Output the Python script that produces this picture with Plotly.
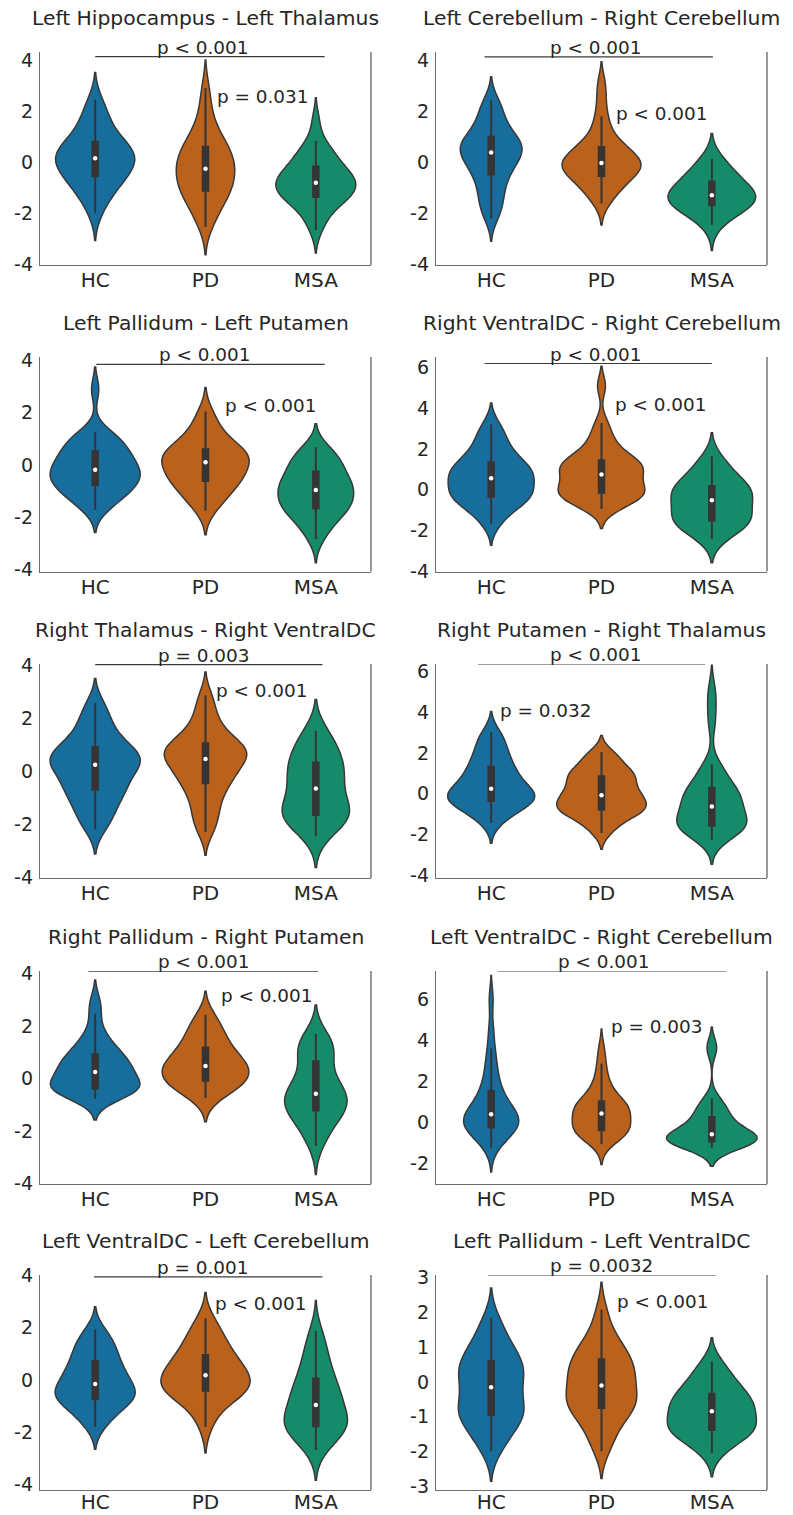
import numpy as np
import plotly.graph_objects as go

# ---------------- data ----------------
GROUPS = ["HC", "PD", "MSA"]

TITLES = [
    "Left Hippocampus - Left Thalamus",
    "Left Cerebellum - Right Cerebellum",
    "Left Pallidum - Left Putamen",
    "Right VentralDC - Right Cerebellum",
    "Right Thalamus - Right VentralDC",
    "Right Putamen - Right Thalamus",
    "Right Pallidum - Right Putamen",
    "Left VentralDC - Right Cerebellum",
    "Left VentralDC - Left Cerebellum",
    "Left Pallidum - Left VentralDC",
]

P_HC_MSA = ["p < 0.001", "p < 0.001", "p < 0.001", "p < 0.001", "p = 0.003",
            "p < 0.001", "p < 0.001", "p < 0.001", "p = 0.001", "p = 0.0032"]
P_SECOND = ["p = 0.031", "p < 0.001", "p < 0.001", "p < 0.001", "p < 0.001",
            "p = 0.032", "p < 0.001", "p = 0.003", "p < 0.001", "p < 0.001"]

YTICKS_4 = [-4, -2, 0, 2, 4]
YTICKS_6 = [-4, -2, 0, 2, 4, 6]
YTICKS_8 = [-2, 0, 2, 4, 6]
YTICKS_3 = [-3, -2, -1, 0, 1, 2, 3]
PANEL_YTICKS = [YTICKS_4, YTICKS_4, YTICKS_4, YTICKS_6, YTICKS_4,
                YTICKS_6, YTICKS_4, YTICKS_8, YTICKS_4, YTICKS_3]

P1_HC = [-2.0, -1.6, -1.3, -1.1, -0.95, -0.8, -0.7, -0.55, -0.45, -0.35, -0.25, -0.15, -0.05, 0.05, 0.12,
         0.18, 0.25, 0.32, 0.4, 0.48, 0.58, 0.68, 0.8, 0.95, 1.1, 1.3, 1.55, 1.8, 2.1, 2.45]
P1_PD = [-2.52, -2.2, -1.9, -1.7, -1.5, -1.35, -1.2, -1.12, -1.0, -0.9, -0.78, -0.65, -0.52, -0.42, -0.32,
         -0.2, -0.1, 0.0, 0.1, 0.2, 0.32, 0.5, 0.6, 0.72, 0.88, 1.05, 1.35, 1.7, 2.2, 2.9]
P1_MSA = [-2.65, -2.3, -2.0, -1.8, -1.6, -1.48, -1.4, -1.36, -1.3, -1.22, -1.12, -1.02, -0.95, -0.88, -0.83,
          -0.77, -0.7, -0.62, -0.55, -0.48, -0.38, -0.25, -0.17, -0.05, 0.1, 0.25, 0.42, 0.6, 0.84, 1.62]

P2_HC = [-2.19, -1.9, -1.65, -1.4, -1.15, -0.95, -0.75, -0.48, -0.38, -0.25, -0.1, 0.02, 0.12, 0.22, 0.32,
         0.45, 0.5, 0.58, 0.65, 0.72, 0.8, 0.9, 1.0, 1.15, 1.3, 1.5, 1.7, 1.95, 2.2, 2.45]
P2_PD = [-1.61, -1.35, -1.15, -1.0, -0.85, -0.72, -0.6, -0.54, -0.45, -0.38, -0.3, -0.22, -0.15, -0.1, -0.05,
         0.0, 0.06, 0.12, 0.2, 0.28, 0.38, 0.52, 0.6, 0.72, 0.88, 1.05, 1.5, 1.8, 2.45, 3.1]
P2_MSA = [-2.45, -2.2, -2.0, -1.88, -1.8, -1.74, -1.7, -1.68, -1.62, -1.55, -1.5, -1.45, -1.4, -1.35, -1.31,
          -1.27, -1.22, -1.17, -1.1, -1.02, -0.95, -0.85, -0.75, -0.65, -0.55, -0.42, -0.3, -0.15, 0.0, 0.13]

P3_HC = [-1.73, -1.5, -1.35, -1.2, -1.08, -0.98, -0.88, -0.78, -0.72, -0.62, -0.55, -0.48, -0.4, -0.32, -0.22,
         -0.15, -0.08, 0.0, 0.08, 0.18, 0.3, 0.42, 0.52, 0.62, 0.75, 0.88, 1.0, 1.12, 1.26, 2.9]
P3_PD = [-1.76, -1.5, -1.3, -1.12, -0.98, -0.85, -0.72, -0.62, -0.56, -0.45, -0.36, -0.28, -0.2, -0.1, 0.05,
         0.15, 0.2, 0.26, 0.32, 0.38, 0.44, 0.5, 0.6, 0.7, 0.82, 0.98, 1.15, 1.4, 1.7, 2.05]
P3_MSA = [-2.85, -2.55, -2.3, -2.1, -1.95, -1.82, -1.72, -1.66, -1.6, -1.5, -1.4, -1.3, -1.2, -1.1, -1.0,
          -0.92, -0.85, -0.78, -0.7, -0.62, -0.52, -0.38, -0.25, -0.12, 0.0, 0.12, 0.25, 0.38, 0.52, 0.68]

P4_HC = [-1.67, -1.3, -1.0, -0.8, -0.62, -0.5, -0.4, -0.35, -0.28, -0.15, -0.02, 0.1, 0.22, 0.35, 0.5,
         0.62, 0.72, 0.8, 0.88, 0.98, 1.1, 1.25, 1.35, 1.5, 1.7, 1.95, 2.2, 2.5, 2.85, 3.2]
P4_PD = [-0.95, -0.75, -0.6, -0.48, -0.38, -0.28, -0.2, -0.15, -0.1, 0.02, 0.15, 0.28, 0.4, 0.52, 0.65,
         0.85, 0.95, 1.02, 1.1, 1.18, 1.28, 1.36, 1.45, 1.6, 1.8, 2.05, 2.35, 2.75, 3.28, 5.1]
P4_MSA = [-2.43, -2.2, -2.0, -1.85, -1.72, -1.62, -1.55, -1.52, -1.45, -1.32, -1.18, -1.05, -0.92, -0.8, -0.6,
          -0.45, -0.35, -0.28, -0.2, -0.12, -0.02, 0.08, 0.18, 0.3, 0.45, 0.62, 0.82, 1.05, 1.32, 1.64]

P5_HC = [-2.2, -1.9, -1.65, -1.42, -1.2, -1.0, -0.85, -0.7, -0.6, -0.45, -0.3, -0.15, -0.02, 0.1, 0.2,
         0.3, 0.38, 0.45, 0.52, 0.6, 0.68, 0.78, 0.92, 1.05, 1.2, 1.4, 1.65, 1.92, 2.22, 2.58]
P5_PD = [-2.29, -1.95, -1.65, -1.35, -1.1, -0.85, -0.6, -0.45, -0.36, -0.2, -0.05, 0.08, 0.2, 0.3, 0.4,
         0.52, 0.6, 0.66, 0.72, 0.8, 0.88, 0.96, 1.06, 1.18, 1.32, 1.5, 1.75, 2.05, 2.42, 2.87]
P5_MSA = [-2.45, -2.2, -2.02, -1.9, -1.8, -1.73, -1.68, -1.65, -1.6, -1.48, -1.35, -1.22, -1.08, -0.94, -0.72,
          -0.58, -0.44, -0.3, -0.16, -0.02, 0.1, 0.24, 0.33, 0.45, 0.6, 0.78, 0.98, 1.2, 1.38, 1.53]

P6_HC = [-1.43, -1.15, -0.92, -0.75, -0.6, -0.5, -0.42, -0.36, -0.3, -0.22, -0.15, -0.08, 0.0, 0.08, 0.18,
         0.3, 0.42, 0.55, 0.68, 0.82, 0.98, 1.15, 1.32, 1.5, 1.7, 1.92, 2.18, 2.45, 2.75, 3.03]
P6_PD = [-1.92, -1.6, -1.35, -1.15, -1.0, -0.9, -0.82, -0.78, -0.72, -0.62, -0.52, -0.42, -0.3, -0.18, -0.1,
         -0.04, 0.08, 0.2, 0.34, 0.48, 0.64, 0.8, 0.86, 0.95, 1.05, 1.2, 1.4, 1.62, 1.85, 2.05]
P6_MSA = [-2.25, -2.0, -1.85, -1.75, -1.68, -1.64, -1.61, -1.6, -1.56, -1.48, -1.38, -1.25, -1.1, -0.95, -0.8,
          -0.7, -0.62, -0.48, -0.35, -0.22, -0.1, 0.02, 0.08, 0.16, 0.25, 0.45, 0.72, 1.0, 1.22, 1.44,
          3.4, 4.3, 5.1]

P7_HC = [-0.78, -0.65, -0.55, -0.5, -0.45, -0.42, -0.4, -0.38, -0.35, -0.28, -0.18, -0.08, 0.02, 0.12, 0.2,
         0.28, 0.36, 0.44, 0.52, 0.6, 0.7, 0.8, 0.92, 1.02, 1.15, 1.32, 1.55, 1.85, 2.46, 2.95]
P7_PD = [-0.75, -0.6, -0.45, -0.35, -0.25, -0.18, -0.12, -0.09, -0.05, 0.05, 0.15, 0.25, 0.33, 0.4, 0.45,
         0.5, 0.56, 0.63, 0.7, 0.8, 0.92, 1.08, 1.18, 1.3, 1.45, 1.6, 1.78, 1.98, 2.2, 2.42]
P7_MSA = [-2.56, -2.25, -2.0, -1.8, -1.6, -1.45, -1.32, -1.22, -1.15, -1.08, -1.0, -0.92, -0.82, -0.72, -0.62,
          -0.54, -0.45, -0.35, -0.22, -0.1, 0.05, 0.32, 0.65, 0.82, 0.98, 1.12, 1.25, 1.38, 1.52, 1.7]

P8_HC = [-1.28, -1.0, -0.75, -0.58, -0.45, -0.38, -0.32, -0.28, -0.22, -0.12, -0.02, 0.08, 0.18, 0.26, 0.3,
         0.38, 0.45, 0.55, 0.68, 0.82, 0.98, 1.15, 1.38, 1.58, 1.85, 2.2, 2.6, 3.05, 3.59, 4.5, 6.0]
P8_PD = [-1.07, -0.85, -0.7, -0.6, -0.52, -0.46, -0.42, -0.4, -0.36, -0.25, -0.12, 0.0, 0.12, 0.22, 0.32,
         0.42, 0.5, 0.58, 0.66, 0.74, 0.8, 0.88, 0.95, 1.05, 1.2, 1.4, 1.65, 1.95, 2.35, 2.86, 3.55]
P8_MSA = [-1.25, -1.15, -1.08, -1.02, -0.99, -0.97, -0.96, -0.95, -0.92, -0.88, -0.84, -0.8, -0.75, -0.7, -0.64,
          -0.59, -0.54, -0.47, -0.4, -0.3, -0.15, 0.0, 0.15, 0.28, 0.42, 0.58, 0.75, 0.95, 1.15, 3.5, 3.75]

P9_HC = [-1.8, -1.55, -1.35, -1.18, -1.02, -0.9, -0.8, -0.74, -0.68, -0.62, -0.55, -0.48, -0.4, -0.32, -0.22,
         -0.1, 0.0, 0.1, 0.2, 0.3, 0.42, 0.55, 0.72, 0.85, 1.0, 1.15, 1.32, 1.5, 1.7, 1.94]
P9_PD = [-1.8, -1.35, -1.0, -0.8, -0.65, -0.55, -0.48, -0.42, -0.38, -0.3, -0.22, -0.14, -0.06, 0.04, 0.14,
         0.22, 0.3, 0.38, 0.46, 0.55, 0.65, 0.82, 0.95, 1.08, 1.22, 1.38, 1.58, 1.8, 2.05, 2.35]
P9_MSA = [-2.69, -2.45, -2.25, -2.08, -1.95, -1.86, -1.8, -1.78, -1.74, -1.65, -1.55, -1.45, -1.35, -1.22, -1.05,
          -0.88, -0.75, -0.65, -0.55, -0.45, -0.32, -0.15, 0.05, 0.22, 0.42, 0.65, 0.9, 1.2, 1.52, 1.88]

P10_HC = [-1.99, -1.75, -1.55, -1.38, -1.22, -1.1, -1.0, -0.95, -0.9, -0.8, -0.7, -0.6, -0.48, -0.36, -0.22,
          -0.08, 0.04, 0.14, 0.22, 0.3, 0.38, 0.52, 0.6, 0.68, 0.8, 0.94, 1.1, 1.3, 1.55, 1.84]
P10_PD = [-1.99, -1.7, -1.45, -1.25, -1.08, -0.95, -0.82, -0.75, -0.7, -0.6, -0.5, -0.42, -0.35, -0.27, -0.18,
          -0.02, 0.08, 0.18, 0.26, 0.34, 0.42, 0.5, 0.65, 0.75, 0.85, 0.98, 1.12, 1.3, 1.6, 2.08]
P10_MSA = [-2.04, -1.85, -1.7, -1.58, -1.5, -1.44, -1.4, -1.38, -1.35, -1.28, -1.2, -1.12, -1.04, -0.96, -0.88,
           -0.8, -0.74, -0.68, -0.62, -0.56, -0.5, -0.42, -0.34, -0.25, -0.15, -0.05, 0.08, 0.22, 0.4, 0.59]

PANELS = [
    [P1_HC, P1_PD, P1_MSA], [P2_HC, P2_PD, P2_MSA], [P3_HC, P3_PD, P3_MSA],
    [P4_HC, P4_PD, P4_MSA], [P5_HC, P5_PD, P5_MSA], [P6_HC, P6_PD, P6_MSA],
    [P7_HC, P7_PD, P7_MSA], [P8_HC, P8_PD, P8_MSA], [P9_HC, P9_PD, P9_MSA],
    [P10_HC, P10_PD, P10_MSA],
]

# ---------------- style / layout ----------------
COLORS = ["#176d9c", "#ba611b", "#168b6a"]
FONT = "DejaVu Sans"
TEXT = "#262626"
W, H = 793, 1515
COLS_PX = [(40, 371), (436, 767)]
ROWS_PX = [(52, 265), (357, 571.5), (664, 878), (971, 1184), (1275, 1490)]
XLABEL_STANDOFF = [-3, -3, -3, -3, -6]

Y_RANGES = [[-4.02, 4.31], [-4.02, 4.32], [-4.09, 4.14], [-4.02, 6.52], [-4.03, 4.05],
            [-4.13, 6.36], [-4.02, 4.09], [-3.02, 7.38], [-4.22, 4.02], [-3.1, 3.07]]
VIOLIN_WIDTHS = [[0.716, 0.53, 0.725], [0.56, 0.716, 0.795], [0.816, 0.79, 0.686],
                 [0.78, 0.786, 0.74], [0.816, 0.746, 0.61], [0.79, 0.81, 0.635],
                 [0.81, 0.786, 0.565], [0.5, 0.53, 0.82], [0.725, 0.807, 0.574],
                 [0.595, 0.64, 0.807]]
BANDWIDTHS = [[0.53, 0.55, 0.45], [0.45, 0.42, 0.5], [0.43, 0.46, 0.45], [0.53, 0.48, 0.58],
              [0.46, 0.44, 0.59], [0.5, 0.4, 0.6], [0.4, 0.45, 0.55], [0.58, 0.5, 0.45],
              [0.43, 0.5, 0.58], [0.43, 0.39, 0.34]]
BRACKET_X = [[0.0, 2.08], [-0.06, 2.01], [0.01, 2.08], [-0.06, 2.0], [0.0, 2.06],
             [-0.12, 1.94], [-0.06, 2.02], [0.06, 2.13], [-0.01, 2.06], [-0.03, 2.04]]
BRACKET_Y = [4.13, 4.13, 3.86, 6.2, 4.03, 6.36, 4.08, 7.38, 3.95, 3.07]
BRACKET_TEXT_X = [0.977, 0.95, 0.99, 0.95, 0.98, 0.95, 0.985, 1.02, 0.977, 1.0]
SECOND_XY = [(1.52, 2.56), (1.54, 1.93), (1.585, 2.28), (1.535, 4.18), (1.51, 3.04),
             (0.49, 4.1), (1.55, 3.14), (1.50, 4.65), (1.50, 2.93), (1.55, 2.32)]
BOX_PX = 5.5
PX_PER_UNIT = (COLS_PX[0][1] - COLS_PX[0][0]) / 3.0

fig = go.Figure()
layout = dict(width=W, height=H, margin=dict(l=0, r=0, t=0, b=0, autoexpand=False),
              paper_bgcolor="white", plot_bgcolor="white", showlegend=False,
              violinmode="overlay", font=dict(family=FONT, color=TEXT))
annotations = []
shapes = []

for i, groups in enumerate(PANELS):
    row, col = divmod(i, 2)
    n = i + 1
    xa = "x" if n == 1 else f"x{n}"
    ya = "y" if n == 1 else f"y{n}"
    xk = "xaxis" if n == 1 else f"xaxis{n}"
    yk = "yaxis" if n == 1 else f"yaxis{n}"
    x0, x1 = COLS_PX[col]
    t, b = ROWS_PX[row]
    layout[xk] = dict(domain=[x0 / W, x1 / W], anchor=ya, type="category",
                      categoryorder="array", categoryarray=GROUPS,
                      range=[-0.5, 2.5], showgrid=False, zeroline=False,
                      showline=True, linecolor="#6e6e6e", linewidth=1.4,
                      ticks="", tickfont=dict(size=20, color=TEXT, family=FONT),
                      ticklabelstandoff=XLABEL_STANDOFF[row], automargin=False)
    ticks = PANEL_YTICKS[i]
    layout[yk] = dict(domain=[1 - b / H, 1 - t / H], anchor=xa,
                      range=Y_RANGES[i], showgrid=False, zeroline=False,
                      showline=True, linecolor="#6e6e6e", linewidth=1.4,
                      tickvals=ticks, ticktext=[str(v) for v in ticks],
                      ticks="", tickfont=dict(size=19, color=TEXT, family=FONT),
                      ticklabelstandoff=2, automargin=False)
    for g, vals in enumerate(groups):
        vw = VIOLIN_WIDTHS[i][g]
        fig.add_trace(go.Violin(
            x=[GROUPS[g]] * len(vals), y=vals, xaxis=xa, yaxis=ya,
            width=vw, scalemode="width", spanmode="soft",
            bandwidth=BANDWIDTHS[i][g], side="both",
            fillcolor=COLORS[g], opacity=1,
            line=dict(color="#383838", width=1.5),
            points="outliers", marker=dict(size=1, opacity=0),
            box=dict(visible=True, width=BOX_PX / (vw * PX_PER_UNIT),
                     fillcolor="#353535", line=dict(color="#353535", width=2)),
            meanline=dict(visible=False), hoverinfo="skip",
        ))
        fig.add_trace(go.Scatter(
            x=[GROUPS[g]], y=[float(np.median(vals))], xaxis=xa, yaxis=ya,
            mode="markers", marker=dict(color="white", size=4.5),
            hoverinfo="skip",
        ))
    # right spine
    shapes.append(dict(type="line", xref=f"{xa} domain", yref=f"{ya} domain",
                       x0=1, x1=1, y0=0, y1=1,
                       line=dict(color="#6e6e6e", width=1.4)))
    # bracket HC–MSA
    bx0, bx1 = BRACKET_X[i]
    shapes.append(dict(type="line", xref=xa, yref=ya, x0=bx0, x1=bx1,
                       y0=BRACKET_Y[i], y1=BRACKET_Y[i],
                       line=dict(color="#3c3c3c", width=1.2)))
    annotations.append(dict(xref=xa, yref=ya, x=BRACKET_TEXT_X[i], y=BRACKET_Y[i],
                            text=P_HC_MSA[i], showarrow=False, yanchor="bottom",
                            yshift=-3, font=dict(size=18.4, color=TEXT, family=FONT)))
    sx, sy = SECOND_XY[i]
    annotations.append(dict(xref=xa, yref=ya, x=sx, y=sy, text=P_SECOND[i],
                            showarrow=False, font=dict(size=18.4, color=TEXT, family=FONT)))
    # title
    annotations.append(dict(xref=f"{xa} domain", yref=f"{ya} domain", x=0.5, y=1,
                            text=TITLES[i], showarrow=False, yanchor="middle",
                            yshift=34, font=dict(size=20.3, color=TEXT, family=FONT)))

layout["annotations"] = annotations
layout["shapes"] = shapes
fig.update_layout(**layout)
fig.write_html("out.html", config={"displayModeBar": False},
               post_script="document.body.style.margin='0px';")
